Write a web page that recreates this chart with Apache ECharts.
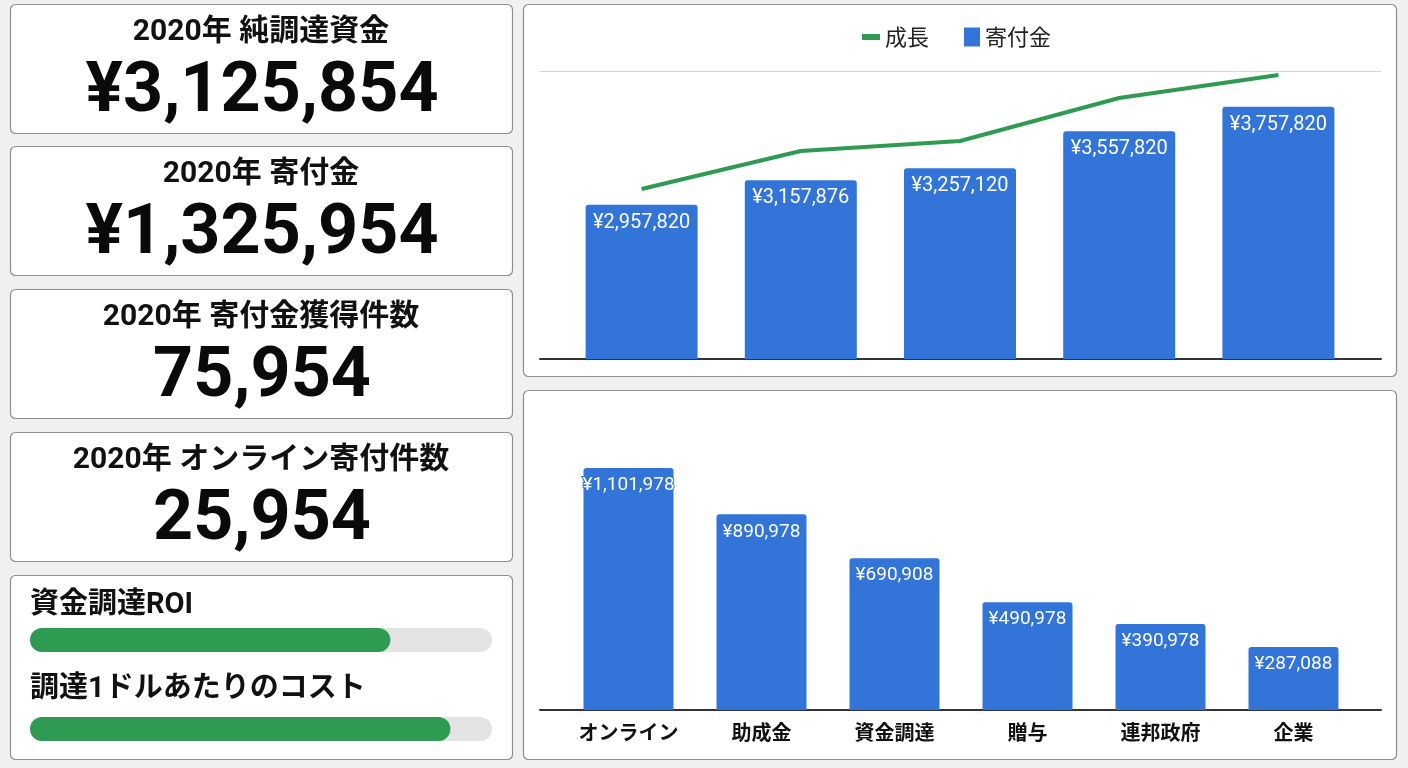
<!DOCTYPE html>
<html style="height: 100%">
<head>
<meta charset="utf-8">
<script src="https://cdn.jsdelivr.net/npm/echarts@6/dist/echarts.min.js"></script>
</head>
<body style="height: 100%; margin: 0; background: #f0f0f0;">
<div id="container" style="width: 1408px; height: 768px;"></div>
<script type="text/javascript">

// 上段: 年別の寄付金と成長
var yearCats = ['2016', '2017', '2018', '2019', '2020'];
var donations = [2957820, 3157876, 3257120, 3557820, 3757820];
var growth = [3087000, 3397000, 3479000, 3830000, 4017000];

// 下段: 収入源別
var sourceCats = ['オンライン', '助成金', '資金調達', '贈与', '連邦政府', '企業'];
var sourceValues = [1101978, 890978, 690908, 490978, 390978, 287088];

// 左側のKPI
var kpiTitles = ['2020年 純調達資金', '2020年 寄付金', '2020年 寄付金獲得件数', '2020年 オンライン寄付件数'];
var kpiValues = ['¥3,125,854', '¥1,325,954', '75,954', '25,954'];

// 進捗バー (%)
var progressLabels = ['資金調達ROI', '調達1ドルあたりのコスト'];
var progressValues = [78, 91];

var blue = '#3274d8';
var green = '#2f9b52';
var jp = '"Noto Sans CJK JP", "Noto Sans", sans-serif';

function yen(v) {
        return '¥' + String(v).replace(/\B(?=(\d{3})+(?!\d))/g, ',');
}

var dom = document.getElementById('container');
var myChart = echarts.init(dom);

// パネルの枠
var graphics = [];
function panel(x, y, w, h) {
        graphics.push({
                type: 'rect', z: -10,
                shape: { x: x, y: y, width: w, height: h, r: 5 },
                style: { fill: '#fff', stroke: '#8f8f8f', lineWidth: 1.2 }
        });
}
var kpiTops = [4, 146, 289, 432];
for (var i = 0; i < kpiTops.length; i++) {
        panel(10.5, kpiTops[i] + 0.5, 502, 129);
        graphics.push({
                type: 'text', z: -5,
                style: { x: 261, y: kpiTops[i] + 28, text: kpiTitles[i], textAlign: 'center', textVerticalAlign: 'middle',
                        font: 'bold 30px Roboto, ' + jp, fill: '#111' }
        });
        graphics.push({
                type: 'text', z: -5,
                style: { x: 262, y: kpiTops[i] + 89, text: kpiValues[i], textAlign: 'center', textVerticalAlign: 'middle',
                        font: 'bold 70px Roboto, sans-serif', fill: '#0a0a0a' }
        });
}
panel(10.5, 575.5, 502, 184);
var progTops = [606, 690];
for (var j = 0; j < progressLabels.length; j++) {
        graphics.push({
                type: 'text', z: -5,
                style: { x: 30, y: progTops[j], text: progressLabels[j], textAlign: 'left', textVerticalAlign: 'middle',
                        font: 'bold 29px Roboto, ' + jp, fill: '#111' }
        });
}
panel(523.5, 4.5, 873, 372);
panel(523.5, 390.5, 873, 369);

option = {
        animation: false,
        textStyle: { fontFamily: jp },
        graphic: graphics,
        legend: [{
                data: ['成長'], left: 857, top: 21, icon: 'rect', itemWidth: 18, itemHeight: 6, itemGap: 10,
                textStyle: { fontSize: 22, color: '#222', fontFamily: jp }
        }, {
                data: ['寄付金'], left: 959, top: 21, icon: 'rect', itemWidth: 16, itemHeight: 19,
                textStyle: { fontSize: 22, color: '#222', fontFamily: jp }
        }],
        grid: [
                { left: 562, right: 50, top: 71, bottom: 409 },
                { left: 540, right: 27, top: 71, bottom: 409 },
                { left: 562, right: 48, top: 420, bottom: 58 },
                { left: 540, right: 27, top: 420, bottom: 58 },
                { left: 30, width: 462, top: 628, height: 24 },
                { left: 30, width: 462, top: 717, height: 24 }
        ],
        xAxis: [
                { gridIndex: 0, type: 'category', data: yearCats, axisLine: { show: false }, axisTick: { show: false }, axisLabel: { show: false } },
                { gridIndex: 1, type: 'value', min: 0, max: 1, axisLine: { show: true, lineStyle: { color: '#333', width: 2 } },
                        axisTick: { show: false }, axisLabel: { show: false }, splitLine: { show: false } },
                { gridIndex: 2, type: 'category', data: sourceCats, axisLine: { show: false }, axisTick: { show: false },
                        axisLabel: { fontSize: 20, fontWeight: 'bold', color: '#111', margin: 12, fontFamily: jp } },
                { gridIndex: 3, type: 'value', min: 0, max: 1, axisLine: { show: true, lineStyle: { color: '#333', width: 2 } },
                        axisTick: { show: false }, axisLabel: { show: false }, splitLine: { show: false } },
                { gridIndex: 4, type: 'value', min: 0, max: 100, show: false },
                { gridIndex: 5, type: 'value', min: 0, max: 100, show: false }
        ],
        yAxis: [
                { gridIndex: 0, type: 'value', min: 1700000, max: 4050000, show: false, splitLine: { show: false } },
                { gridIndex: 1, type: 'value', min: 0, max: 1, interval: 1, axisLine: { show: false }, axisLabel: { show: false },
                        axisTick: { show: false }, splitLine: { show: true, lineStyle: { color: '#d4d4d4', width: 1 } } },
                { gridIndex: 2, type: 'value', min: 0, max: 1320000, show: false, splitLine: { show: false } },
                { gridIndex: 3, type: 'value', min: 0, max: 1, show: false },
                { gridIndex: 4, type: 'category', data: [progressLabels[0]], show: false },
                { gridIndex: 5, type: 'category', data: [progressLabels[1]], show: false }
        ],
        series: [
                {
                        name: '寄付金', type: 'bar', xAxisIndex: 0, yAxisIndex: 0, data: donations, barWidth: 112, z: 3,
                        itemStyle: { color: blue, borderRadius: [3, 3, 0, 0] },
                        label: { show: true, position: 'insideTop', distance: 8, color: '#fff', fontSize: 20, fontFamily: 'Roboto, sans-serif',
                                formatter: function (p) { return yen(p.value); } }
                },
                {
                        name: '成長', type: 'line', xAxisIndex: 0, yAxisIndex: 0, data: growth, showSymbol: false, z: 4,
                        lineStyle: { color: green, width: 4 }, itemStyle: { color: green }
                },
                {
                        name: '収入源', type: 'bar', xAxisIndex: 2, yAxisIndex: 2, data: sourceValues, barWidth: 90, z: 3,
                        itemStyle: { color: blue, borderRadius: [3, 3, 0, 0] },
                        label: { show: true, position: 'insideTop', distance: 8, color: '#fff', fontSize: 19, fontFamily: 'Roboto, sans-serif',
                                textBorderColor: blue, textBorderWidth: 2,
                                formatter: function (p) { return yen(p.value); } }
                },
                {
                        type: 'bar', xAxisIndex: 4, yAxisIndex: 4, data: [progressValues[0]], barWidth: 24,
                        showBackground: true, backgroundStyle: { color: '#e3e3e3', borderRadius: 12 },
                        itemStyle: { color: green, borderRadius: 12 }
                },
                {
                        type: 'bar', xAxisIndex: 5, yAxisIndex: 5, data: [progressValues[1]], barWidth: 24,
                        showBackground: true, backgroundStyle: { color: '#e3e3e3', borderRadius: 12 },
                        itemStyle: { color: green, borderRadius: 12 }
                }
        ]
};

if (option && typeof option === "object") {
        myChart.setOption(option, true);
}
</script>
</body>
</html>
